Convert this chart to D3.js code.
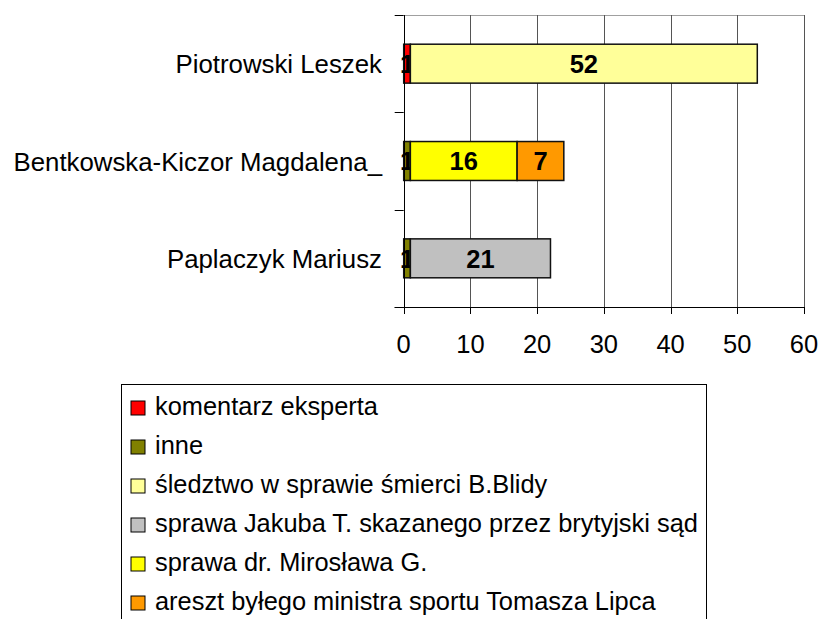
<!DOCTYPE html>
<html>
<head>
<meta charset="utf-8">
<script src="https://cdn.jsdelivr.net/npm/d3@7"></script>
<style>
  html, body { margin: 0; padding: 0; background: #fff; }
  svg { display: block; font-family: "Liberation Sans", Arial, sans-serif; }
</style>
</head>
<body>
<div id="chart"></div>
<script>
// categories (top to bottom)
var categories = ["Piotrowski Leszek", "Bentkowska-Kiczor Magdalena_", "Paplaczyk Mariusz"]

// series, in stacking order
var seriesNames = [
  "komentarz eksperta",
  "inne",
  "śledztwo w sprawie śmierci B.Blidy",
  "sprawa Jakuba T. skazanego przez brytyjski sąd",
  "sprawa dr. Mirosława G.",
  "areszt byłego ministra sportu Tomasza Lipca"
]
var komentarz = [1, 0, 0]
var inne = [0, 1, 1]
var sledztwo = [52, 0, 0]
var jakuba = [0, 0, 21]
var miroslawa = [0, 16, 0]
var areszt = [0, 7, 0]

var xTicks = [0, 10, 20, 30, 40, 50, 60]

var colors = ["#ff0000", "#808000", "#ffff99", "#c0c0c0", "#ffff00", "#ff9900"]

var width = 821, height = 619
var svg = d3.select("#chart").append("svg")
    .attr("width", width)
    .attr("height", height)

var allSeries = [komentarz, inne, sledztwo, jakuba, miroslawa, areszt]
var table = categories.map((c, i) => {
  var row = {name: c}
  seriesNames.forEach((s, j) => row[s] = allSeries[j][i])
  return row
})
var stacked = d3.stack().keys(seriesNames)(table)

var plot = {left: 403.7, right: 804, top: 15, bottom: 307}

var x = d3.scaleLinear()
    .domain([0, 60])
    .range([plot.left, plot.right])

var y = d3.scaleBand()
    .domain(categories)
    .range([plot.top, plot.bottom])
    .paddingInner(0.6)
    .paddingOuter(0.3)

// gridlines
svg.append("line")
    .attr("x1", plot.left).attr("x2", plot.right)
    .attr("y1", plot.top + 0.5).attr("y2", plot.top + 0.5)
    .attr("stroke", "#a0a0a0")

svg.append("g")
  .selectAll("line")
  .data(xTicks.slice(1))
  .join("line")
    .attr("x1", d => Math.round(x(d)) + 0.5)
    .attr("x2", d => Math.round(x(d)) + 0.5)
    .attr("y1", plot.top)
    .attr("y2", plot.bottom)
    .attr("stroke", "#555")

// bars + labels, series by series so the next segment covers overflowing text
var layers = svg.append("g")
stacked.forEach((layer, j) => {
  var g = layers.append("g")
  g.selectAll("rect")
    .data(layer.filter(d => d[1] - d[0] > 0))
    .join("rect")
      .attr("x", d => x(d[0]))
      .attr("y", d => y(d.data.name))
      .attr("width", d => x(d[1]) - x(d[0]))
      .attr("height", y.bandwidth())
      .attr("fill", colors[j])
      .attr("stroke", "#111")
      .attr("stroke-width", 1.5)
  g.selectAll("text")
    .data(layer.filter(d => d[1] - d[0] > 0))
    .join("text")
      .attr("x", d => x((d[0] + d[1]) / 2))
      .attr("y", d => y(d.data.name) + y.bandwidth() / 2)
      .attr("dy", "0.37em")
      .attr("text-anchor", "middle")
      .attr("font-weight", "bold")
      .attr("font-size", 25.5)
      .attr("fill", "#000")
      .text(d => d[1] - d[0])
})

// value axis
var xAxis = svg.append("g")
xAxis.append("line")
    .attr("x1", plot.left - 9).attr("x2", plot.right)
    .attr("y1", plot.bottom + 0.5).attr("y2", plot.bottom + 0.5)
    .attr("stroke", "#000")
xAxis.selectAll(".tick")
  .data(xTicks)
  .join("line")
    .attr("class", "tick")
    .attr("x1", d => Math.round(x(d)) + 0.5)
    .attr("x2", d => Math.round(x(d)) + 0.5)
    .attr("y1", plot.bottom)
    .attr("y2", plot.bottom + 7)
    .attr("stroke", "#000")
xAxis.selectAll("text")
  .data(xTicks)
  .join("text")
    .attr("x", d => x(d))
    .attr("y", 353)
    .attr("text-anchor", "middle")
    .attr("font-size", 25.5)
    .text(d => d)

// category axis
var yAxis = svg.append("g")
yAxis.append("line")
    .attr("x1", Math.round(plot.left) + 0.5).attr("x2", Math.round(plot.left) + 0.5)
    .attr("y1", plot.top).attr("y2", plot.bottom)
    .attr("stroke", "#000")
var bounds = [plot.top].concat(categories.map(c => y(c) + y.bandwidth() + y.step() * 0.3))
yAxis.selectAll(".tick")
  .data(bounds)
  .join("line")
    .attr("class", "tick")
    .attr("x1", plot.left - 9)
    .attr("x2", plot.left)
    .attr("y1", d => Math.round(d) + 0.5)
    .attr("y2", d => Math.round(d) + 0.5)
    .attr("stroke", "#000")
yAxis.selectAll("text")
  .data(categories)
  .join("text")
    .attr("x", 382)
    .attr("y", d => y(d) + y.bandwidth() / 2)
    .attr("dy", "0.37em")
    .attr("text-anchor", "end")
    .attr("font-size", 25.8)
    .text(d => d)

// legend
var legend = svg.append("g").attr("transform", "translate(121.5,384.5)")
legend.append("rect")
    .attr("width", 585)
    .attr("height", 260)
    .attr("fill", "#fff")
    .attr("stroke", "#000")

var ly = d3.scalePoint()
    .domain(seriesNames)
    .range([30, 30 + 39 * 5])

var item = legend.selectAll(".item")
  .data(seriesNames)
  .join("g")
    .attr("class", "item")
    .attr("transform", d => `translate(0,${ly(d)})`)
item.append("rect")
    .attr("x", 9.5)
    .attr("y", -13.5)
    .attr("width", 14)
    .attr("height", 14)
    .attr("fill", (d, i) => colors[i])
    .attr("stroke", "#000")
item.append("text")
    .attr("x", 33.5)
    .attr("font-size", 25.4)
    .text(d => d)
</script>
</body>
</html>
